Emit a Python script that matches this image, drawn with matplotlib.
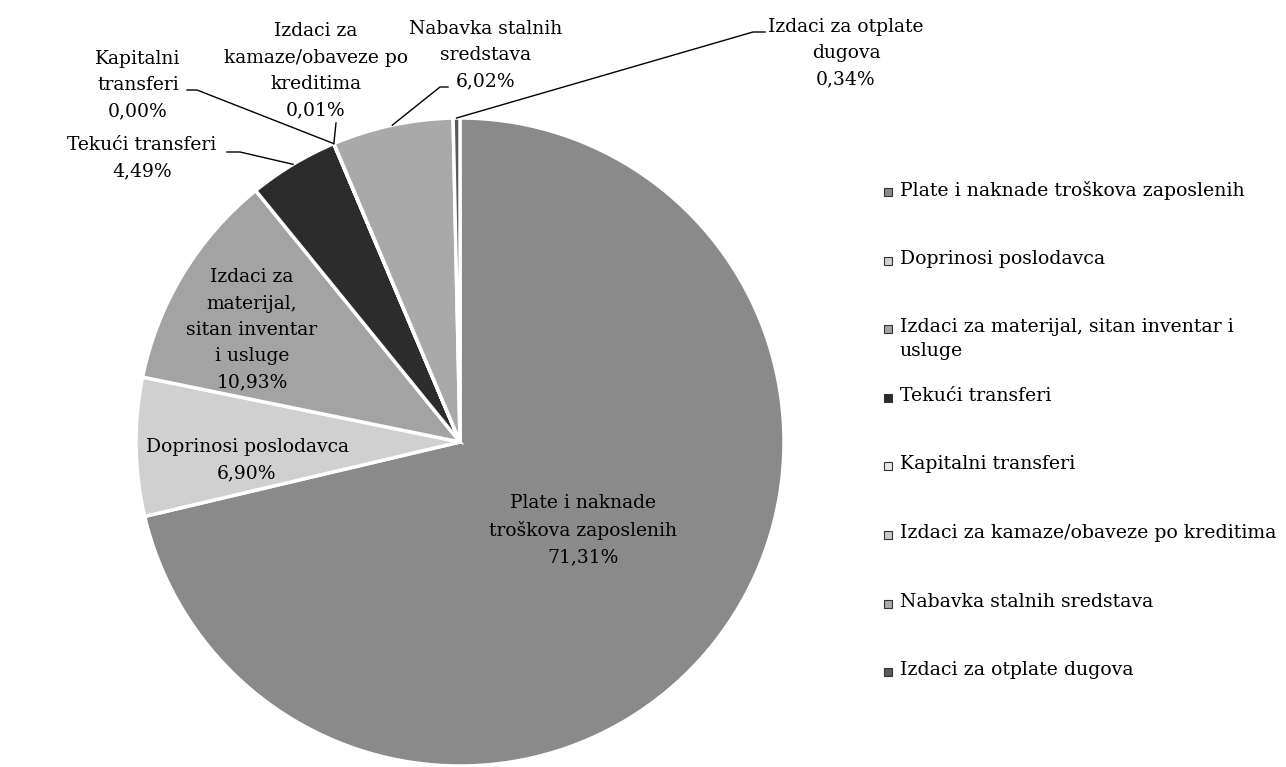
import numpy as np
import matplotlib.pyplot as plt
from matplotlib.patches import Rectangle

plt.rcParams['font.family'] = ['DejaVu Serif']

# data
categories = ['Plate i naknade troškova zaposlenih',
              'Doprinosi poslodavca',
              'Izdaci za materijal, sitan inventar i usluge',
              'Tekući transferi',
              'Kapitalni transferi',
              'Izdaci za kamaze/obaveze po kreditima',
              'Nabavka stalnih sredstava',
              'Izdaci za otplate dugova']
shares = [71.31, 6.90, 10.93, 4.49, 0.00, 0.01, 6.02, 0.34]

pie_names = ['Plate i naknade\ntroškova zaposlenih',
             'Doprinosi poslodavca',
             'Izdaci za\nmaterijal,\nsitan inventar\ni usluge',
             'Tekući transferi',
             'Kapitalni\ntransferi',
             'Izdaci za\nkamaze/obaveze po\nkreditima',
             'Nabavka stalnih\nsredstava',
             'Izdaci za otplate\ndugova']
legend_names = ['Plate i naknade troškova zaposlenih',
                'Doprinosi poslodavca',
                'Izdaci za materijal, sitan inventar i\nusluge',
                'Tekući transferi',
                'Kapitalni transferi',
                'Izdaci za kamaze/obaveze po kreditima',
                'Nabavka stalnih sredstava',
                'Izdaci za otplate dugova']

colors = ['#8a8a8a', '#d0d0d0', '#a3a3a3', '#2c2c2c', '#e6e6e6', '#c8c8c8', '#a9a9a9', '#5a5a5a']

W, H = 1286, 767
CX, CY, R = 460, 442, 324   # pie centre and radius in pixels


def px(x, y):
    # pixel position (from top-left) -> data coords around pie centre
    return (x - CX) / R, (CY - y) / R


def fmt(v):
    return ('%.2f' % v).replace('.', ',') + '%'


fig = plt.figure(figsize=(W / 100, H / 100), dpi=100)
ax = fig.add_axes([0, 0, 1, 1])

wedges, _ = ax.pie(shares, colors=colors, startangle=90, counterclock=False,
                   radius=1, center=(0, 0),
                   wedgeprops=dict(edgecolor='white', linewidth=2.5))

ax.set_xlim(-CX / R, (W - CX) / R)
ax.set_ylim(-(H - CY) / R, CY / R)
ax.set_aspect('equal')
ax.axis('off')

fs = 13.5
ls = 1.6


def edge(w):
    a = np.deg2rad((w.theta1 + w.theta2) / 2)
    return np.cos(a), np.sin(a)


# labels inside the big slices (centre of text block in px)
inside = [(0, (583, 530)), (1, (247, 460)), (2, (252, 330))]
for i, pos in inside:
    x, y = px(*pos)
    ax.text(x, y, pie_names[i] + '\n' + fmt(shares[i]), ha='center', va='center',
            fontsize=fs, linespacing=ls)

# labels outside with leader lines: (index, text centre, leader path in px)
outside = [
    (3, (142, 158), [(227, 152), (240, 152)]),
    (4, (138, 85), [(187, 90), (197, 90)]),
    (5, (316, 71), [(336, 123)]),
    (6, (486, 55), [(448, 87), (440, 87)]),
    (7, (846, 53), [(765, 32), (753, 32)]),
]
for i, pos, path in outside:
    x, y = px(*pos)
    ax.text(x, y, pie_names[i] + '\n' + fmt(shares[i]), ha='center', va='center',
            fontsize=fs, linespacing=ls)
    ex, ey = edge(wedges[i])
    pts = [px(*p) for p in path]
    xs = [p[0] for p in pts] + [ex]
    ys = [p[1] for p in pts] + [ey]
    ax.plot(xs, ys, color='black', lw=1)

# legend drawn by hand, evenly spaced rows
for i, name in enumerate(legend_names):
    ly = 192 + 68.6 * i
    x0, y0 = px(884, ly + 4)
    ax.add_patch(Rectangle((x0, y0), 8 / R, 8 / R, facecolor=colors[i],
                           edgecolor='#333333', lw=0.8))
    x, y = px(900, ly - 11)
    ax.text(x, y, name, ha='left', va='top', fontsize=13.6, linespacing=1.45)

fig.savefig('out.png', dpi=100)
